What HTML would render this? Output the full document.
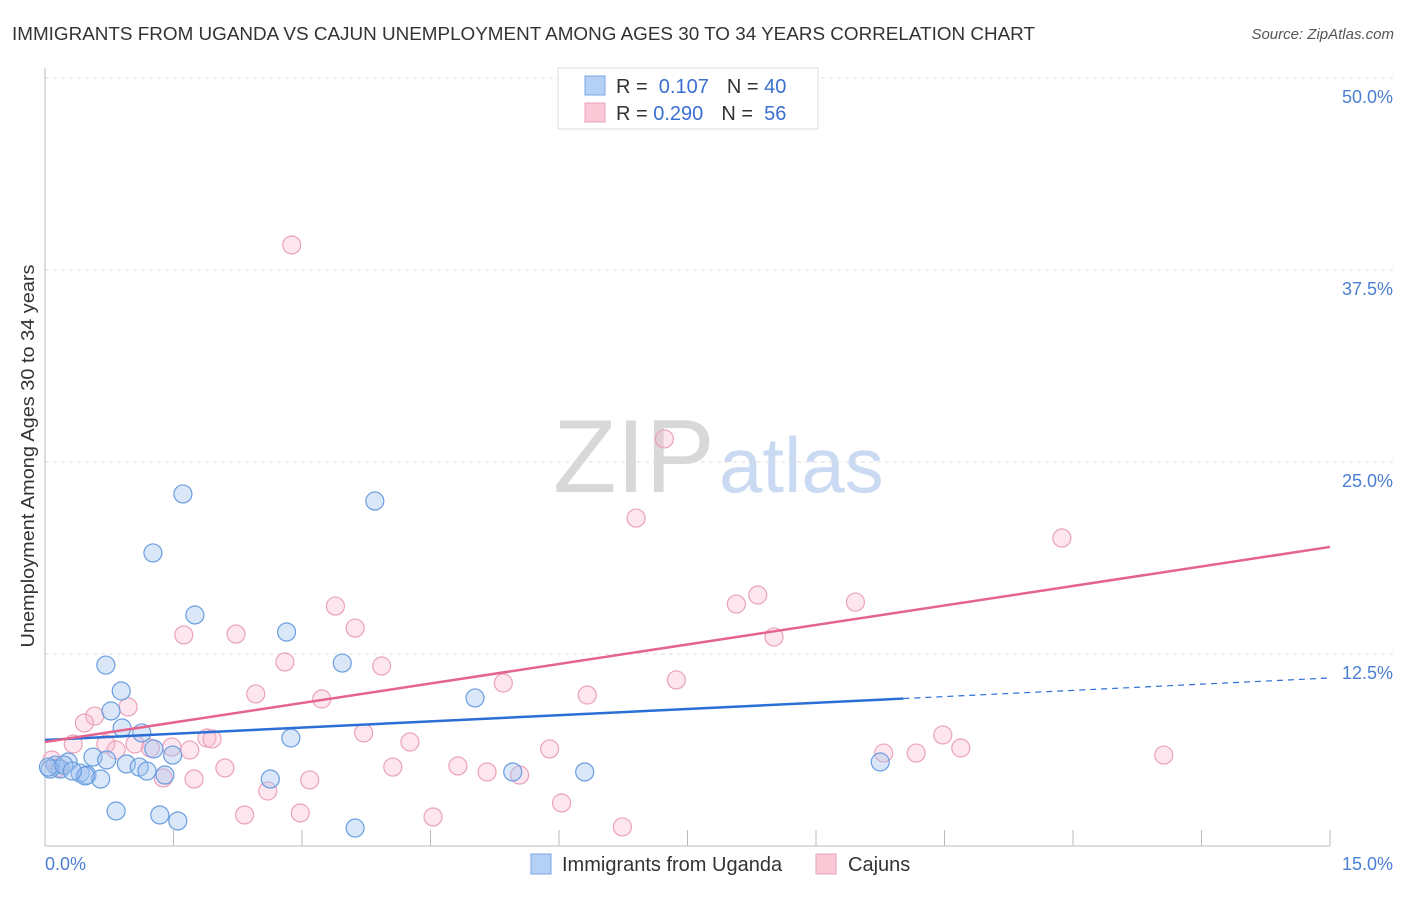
<!DOCTYPE html>
<html><head><meta charset="utf-8"><style>
body{margin:0;background:#fff;font-family:"Liberation Sans",sans-serif}
svg text{font-family:"Liberation Sans",sans-serif}
</style></head><body>
<svg id="chart" width="1406" height="892" xmlns="http://www.w3.org/2000/svg">
<text x="12" y="40" font-size="18" fill="#333" textLength="1023" lengthAdjust="spacingAndGlyphs">IMMIGRANTS FROM UGANDA VS CAJUN UNEMPLOYMENT AMONG AGES 30 TO 34 YEARS CORRELATION CHART</text>
<text x="1394" y="39" font-size="15" fill="#555" font-style="italic" text-anchor="end">Source: ZipAtlas.com</text>
<g>
<text x="553" y="492" font-size="104" font-family="Liberation Serif" fill="#d8d8d8">ZIP</text>
<text x="719" y="492" font-size="78" fill="#c9daf2">atlas</text>
</g>
<g id="grid"></g><g id="axes"></g><g id="pts"></g><g id="lines"></g>
<text transform="translate(34,456) rotate(-90)" font-size="18" fill="#333" text-anchor="middle" textLength="383" lengthAdjust="spacingAndGlyphs">Unemployment Among Ages 30 to 34 years</text>
<g>
<rect x="558" y="68" width="260" height="61" fill="#fff" stroke="#ddd"/>
<rect x="585" y="76" width="20" height="19" fill="#b5d0f5" stroke="#7aa6e4"/>
<rect x="585" y="103" width="20" height="19" fill="#fac8d6" stroke="#eaa0b8"/>
<text x="616" y="93" font-size="20" fill="#333">R = <tspan fill="#3a6fd0">&#160;0.107</tspan><tspan dx="18">N = </tspan><tspan fill="#3a6fd0">40</tspan></text>
<text x="616" y="120" font-size="20" fill="#333">R = <tspan fill="#3a6fd0">0.290</tspan><tspan dx="18">N = </tspan><tspan fill="#3a6fd0">&#160;56</tspan></text>
</g>
<g>
<rect x="531" y="854" width="20" height="20" fill="#b5d0f5" stroke="#7aa6e4"/>
<text x="562" y="871" font-size="20" fill="#333">Immigrants from Uganda</text>
<rect x="816" y="854" width="20" height="20" fill="#fac8d6" stroke="#eaa0b8"/>
<text x="848" y="871" font-size="20" fill="#333">Cajuns</text>
</g>
</svg>
<script>
const yTicks=[12.5,25,37.5,50];
const yTickLabels=["12.5%","25.0%","37.5%","50.0%"];
const xTicks=[0,1.5,3,4.5,6,7.5,9,10.5,12,13.5,15];
const ugandaX=[1.61,3.85,1.26,1.75,2.82,3.47,0.71,0.89,5.02,0.77,0.90,1.13,2.87,1.27,1.49,0.56,0.72,0.95,0.27,0.12,0.18,0.41,0.49,0.65,1.10,1.19,1.40,2.63,5.46,6.30,9.75,0.83,1.34,1.55,3.62,0.06,0.47,0.04,0.22,0.32];
const ugandaY=[22.92,22.46,19.08,15.04,13.93,11.91,11.78,10.09,9.64,8.79,7.68,7.36,7.03,6.32,5.92,5.79,5.60,5.34,5.47,5.27,5.01,4.75,4.62,4.36,5.14,4.88,4.62,4.36,4.82,4.82,5.47,2.28,2.02,1.63,1.17,5.01,4.56,5.14,5.27,4.88];
const cajunX=[2.88,7.23,6.90,11.87,8.32,8.07,9.46,3.39,3.62,1.62,2.23,8.51,2.80,3.93,5.35,7.37,2.46,6.33,3.23,0.97,0.58,0.46,3.72,1.89,1.95,4.26,10.48,0.33,0.71,0.83,1.05,1.23,1.48,5.89,10.69,9.79,10.17,13.06,1.69,2.10,4.06,4.82,5.16,5.54,1.38,1.74,3.09,2.60,6.03,2.33,2.98,4.53,6.74,0.08,0.15,7.97];
const cajunY=[39.13,26.50,21.35,20.05,16.34,15.75,15.88,15.62,14.19,13.74,13.80,13.61,11.98,11.72,10.61,10.81,9.90,9.83,9.57,9.05,8.46,8.01,7.36,7.03,6.97,6.77,7.23,6.64,6.64,6.25,6.64,6.38,6.45,6.32,6.38,6.05,6.05,5.92,6.25,5.08,5.14,5.21,4.82,4.62,4.43,4.36,4.30,3.58,2.80,2.02,2.15,1.89,1.24,5.60,5.08,49.35];
const ugandaTrend=[6.90,10.94];
const ugandaSolidEnd=10.02;
const cajunTrend=[6.77,19.47];
const NS="http://www.w3.org/2000/svg";
const X=v=>45+v/15*1285, Y=v=>846-v/50*768;
function mk(tag,attrs,parent){const e=document.createElementNS(NS,tag);for(const k in attrs)e.setAttribute(k,attrs[k]);document.getElementById(parent).appendChild(e);return e;}
yTicks.forEach((t,i)=>{
 const l=mk('line',{x1:45,x2:1394,y1:Y(t),y2:Y(t),stroke:'#ddd','stroke-dasharray':'4,4'},'grid');
 
 
 const tx=mk('text',{x:1393,y:Y(t)+25,'font-size':18,fill:'#4a7fd4','text-anchor':'end'},'grid');
 tx.textContent=yTickLabels[i];
 
 
});
const ax=mk('line',{x1:45,x2:45,y1:68,y2:846,stroke:'#bbb'},'axes');


const bx=mk('line',{x1:45,x2:1330,y1:846,y2:846,stroke:'#bbb'},'axes');


xTicks.forEach(t=>{
 const l=mk('line',{x1:X(t),x2:X(t),y1:830,y2:846,stroke:'#bbb'},'axes');
 
 
});
const x0=mk('text',{x:45,y:870,'font-size':18,fill:'#4a7fd4'},'axes');x0.textContent='0.0%';


const x1=mk('text',{x:1393,y:870,'font-size':18,fill:'#4a7fd4','text-anchor':'end'},'axes');x1.textContent='15.0%';


cajunX.forEach((v,i)=>{
 const c=mk('circle',{cx:X(v),cy:Y(cajunY[i]),r:9,fill:'rgba(248,182,202,0.35)',stroke:'#eaa2ba','stroke-width':1.2},'pts');
 
 
});
ugandaX.forEach((v,i)=>{
 const c=mk('circle',{cx:X(v),cy:Y(ugandaY[i]),r:9,fill:'rgba(160,196,240,0.4)',stroke:'#6a9ee0','stroke-width':1.2},'pts');
 
 
});
const uy=v=>ugandaTrend[0]+(ugandaTrend[1]-ugandaTrend[0])*v/15;
let l1=mk('line',{x1:X(0),y1:Y(ugandaTrend[0]),x2:X(ugandaSolidEnd),y2:Y(uy(ugandaSolidEnd)),stroke:'#2b6fd6','stroke-width':2.5},'lines');


let l2=mk('line',{x1:X(ugandaSolidEnd),y1:Y(uy(ugandaSolidEnd)),x2:X(15),y2:Y(ugandaTrend[1]),stroke:'#2b6fd6','stroke-width':1.2,'stroke-dasharray':'6,5'},'lines');


let l3=mk('line',{x1:X(0),y1:Y(cajunTrend[0]),x2:X(15),y2:Y(cajunTrend[1]),stroke:'#e4648e','stroke-width':2.5},'lines');


</script>
</body></html>
